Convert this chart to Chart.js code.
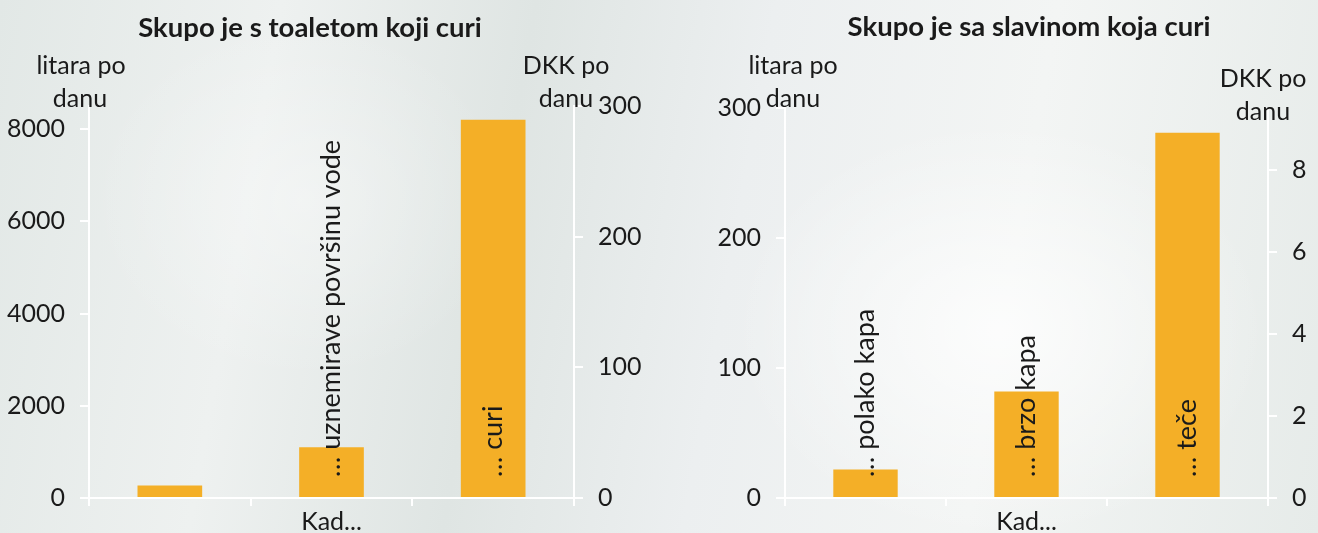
<!DOCTYPE html>
<html>
<head>
    <meta charset="utf-8">
    <title>Skupo je curi</title>
    <script src="https://cdn.jsdelivr.net/npm/chart.js@4.4.1/dist/chart.umd.min.js"></script>
    <style>
        html, body { margin: 0; padding: 0; }
        body {
            width: 1318px; height: 533px; overflow: hidden; position: relative;
            background:
                radial-gradient(ellipse 380px 300px at 1000px 330px, rgba(255,255,255,0.75), rgba(255,255,255,0) 70%),
                radial-gradient(ellipse 300px 260px at 300px 200px, rgba(255,255,255,0.35), rgba(255,255,255,0) 70%),
                linear-gradient(100deg, #e2e8e6 0%, #eef1f0 20%, #dfe5e3 38%, #eceff0 55%, #f3f5f4 75%, #e6ebe9 100%);
        }
        canvas { position: absolute; top: 0; }
    </style>
</head>
<body>
    <canvas id="toiletChart" width="660" height="533" style="left:0"></canvas>
    <canvas id="tapChart" width="658" height="533" style="left:660px"></canvas>
    <script>
        // data
        var categories = ['1', '2', '3'];
        var toiletLabels = ['', '\u2026 uznemirave povr\u0161inu vode', '\u2026 curi'];
        var toiletLitres = [270, 1100, 8200];
        var tapLabels = ['\u2026 polako kapa', '\u2026 brzo kapa', '\u2026 te\u010de'];
        var tapLitres = [22, 82, 281];

        var toiletLeftTicks = [0, 2000, 4000, 6000, 8000];
        var toiletRightTicks = [0, 100, 200, 300];
        var tapLeftTicks = [0, 100, 200, 300];
        var tapRightTicks = [0, 2, 4, 6, 8];

        var FONT = 'Lato, "Open Sans", sans-serif';
        var INK = '#1a1a1a';
        var BAR = '#f4af27';

        // rotated labels inside the bars + free text (titles, axis captions)
        var textPlugin = {
            id: 'texts',
            afterDatasetsDraw: function(chart, args, opts) {
                var ctx = chart.ctx;
                ctx.save();
                ctx.fillStyle = INK;
                var meta = chart.getDatasetMeta(0);
                var labels = chart.data.datasets[0].barLabels;
                ctx.font = '27px ' + FONT;
                ctx.textBaseline = 'middle';
                ctx.textAlign = 'left';
                meta.data.forEach(function(bar, i) {
                    if (!labels[i]) return;
                    ctx.save();
                    ctx.translate(bar.x, bar.base - 20);
                    ctx.rotate(-Math.PI / 2);
                    ctx.fillText(labels[i], 0, 0);
                    ctx.restore();
                });
                opts.items.forEach(function(it) {
                    ctx.font = (it.bold ? 'bold ' : '') + it.size + 'px ' + FONT;
                    ctx.textAlign = 'center';
                    ctx.fillText(it.text, it.x, it.y);
                });
                ctx.restore();
            }
        };

        function fixed(size) {
            return function(scale) {
                if (scale.isHorizontal()) scale.height = size; else scale.width = size;
            };
        }

        function keep(list) {
            return function(scale) {
                scale.ticks = list.map(function(v) { return { value: v }; });
            };
        }

        function yAxis(pos, max, ticks, width) {
            return {
                type: 'linear', position: pos, min: 0, max: max,
                afterFit: fixed(width),
                afterBuildTicks: keep(ticks),
                border: { color: '#ffffff', width: 2 },
                grid: { drawOnChartArea: false, color: '#ffffff', lineWidth: 2, tickLength: 9 },
                ticks: {
                    color: INK, font: { family: FONT, size: 25 }, padding: 15,
                    callback: function(v) { return String(v); }
                }
            };
        }

        function makeChart(id, values, barLabels, y, y1, items) {
            return new Chart(document.getElementById(id), {
                type: 'bar',
                data: {
                    labels: categories,
                    datasets: [{
                        data: values,
                        barLabels: barLabels,
                        backgroundColor: BAR,
                        categoryPercentage: 1,
                        barPercentage: 0.4
                    }]
                },
                options: {
                    responsive: false,
                    animation: false,
                    layout: { padding: { top: y.top, left: 0, right: 0, bottom: 0 } },
                    plugins: {
                        legend: { display: false },
                        tooltip: { enabled: false },
                        texts: { items: items }
                    },
                    scales: {
                        x: {
                            afterFit: fixed(35),
                            border: { color: '#ffffff', width: 2 },
                            grid: { drawOnChartArea: false, color: '#ffffff', lineWidth: 2, tickLength: 8, offset: true },
                            ticks: { display: false },
                            title: { display: true, text: 'Kad...', color: INK, font: { family: FONT, size: 25, lineHeight: 1 }, padding: { bottom: -1 } }
                        },
                        y: yAxis('left', y.max, y.ticks, y.width),
                        y1: yAxis('right', y1.max, y1.ticks, y1.width)
                    }
                },
                plugins: [textPlugin]
            });
        }

        makeChart('toiletChart', toiletLitres, toiletLabels,
            { top: 106, max: 8500, ticks: toiletLeftTicks, width: 89 },
            { max: 300, ticks: toiletRightTicks, width: 86 },
            [
                { text: 'Skupo je s toaletom koji curi', x: 310, y: 28, size: 27.5, bold: true },
                { text: 'litara po', x: 81, y: 66, size: 25 },
                { text: 'danu', x: 80, y: 99, size: 25 },
                { text: 'DKK po', x: 566, y: 66, size: 25 },
                { text: 'danu', x: 566, y: 99, size: 25 }
            ]);

        makeChart('tapChart', tapLitres, tapLabels,
            { top: 108, max: 300, ticks: tapLeftTicks, width: 125 },
            { max: 9.5, ticks: tapRightTicks, width: 50 },
            [
                { text: 'Skupo je sa slavinom koja curi', x: 369, y: 27, size: 27.5, bold: true },
                { text: 'litara po', x: 133, y: 66, size: 25 },
                { text: 'danu', x: 133, y: 99, size: 25 },
                { text: 'DKK po', x: 603, y: 79, size: 25 },
                { text: 'danu', x: 603, y: 112, size: 25 }
            ]);
    </script>
</body>
</html>
